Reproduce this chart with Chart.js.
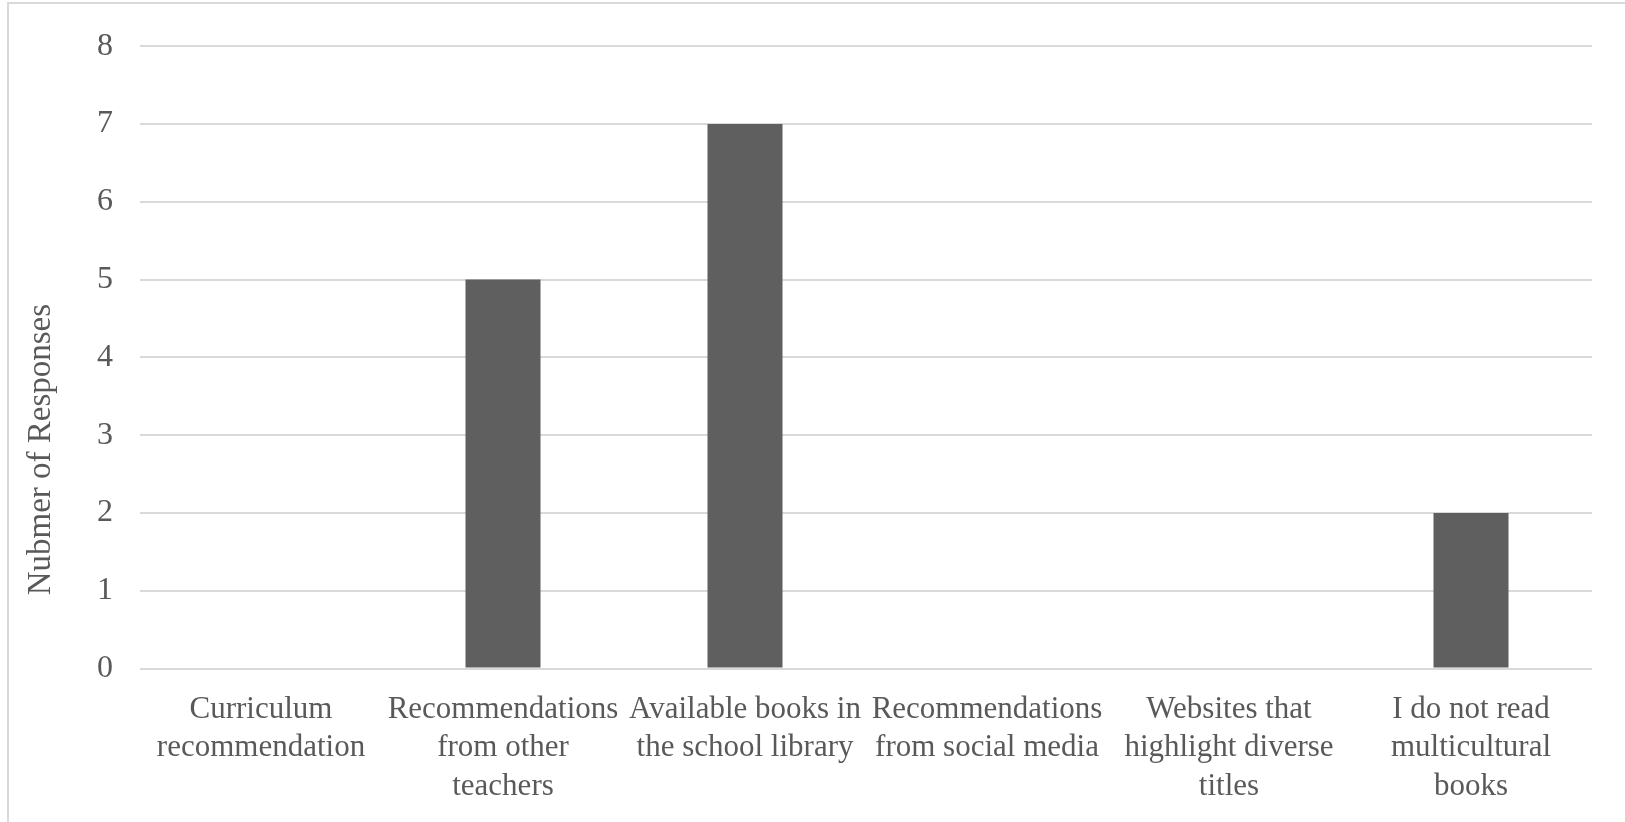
<!DOCTYPE html>
<html>
<head>
<meta charset="utf-8">
<script src="https://cdn.jsdelivr.net/npm/chart.js@4.4.1/dist/chart.umd.min.js"></script>
<style>
  html, body { margin: 0; padding: 0; background: #fff; overflow: hidden; }
  #frame { position: absolute; left: 7px; top: 2px; width: 1640px; height: 840px;
           border-left: 2px solid #d9d9d9; border-top: 2px solid #d9d9d9; }
  #chart { position: absolute; left: 0; top: 0; }
</style>
</head>
<body>
<div id="frame"></div>
<canvas id="chart" width="1625" height="822"></canvas>
<script>
// data
const categories = [
    ['Curriculum', 'recommendation'],
    ['Recommendations', 'from other', 'teachers'],
    ['Available books in', 'the school library'],
    ['Recommendations', 'from social media'],
    ['Websites that', 'highlight diverse', 'titles'],
    ['I do not read', 'multicultural', 'books']
];
const responses = [0, 5, 7, 0, 0, 2];
const yTicks = [0, 1, 2, 3, 4, 5, 6, 7, 8];
const yTitle = 'Nubmer of Responses';

const textColor = '#595959';
const fontFamily = '"Liberation Serif", "Times New Roman", serif';

// axis title sits lower than the plot centre in the original, so draw it by hand
const yTitlePlugin = {
    id: 'yTitle',
    afterDraw(chart) {
        const c = chart.ctx;
        c.save();
        c.translate(41, chart.height * 0.547);
        c.rotate(-Math.PI / 2);
        c.font = '33px ' + fontFamily;
        c.fillStyle = textColor;
        c.textAlign = 'center';
        c.textBaseline = 'middle';
        c.fillText(yTitle, 0, 0);
        c.restore();
    }
};

const ctx = document.getElementById('chart').getContext('2d');
new Chart(ctx, {
    type: 'bar',
    data: {
        labels: categories,
        datasets: [{
            data: responses,
            backgroundColor: '#5f5f5f',
            borderWidth: 0,
            barPercentage: 1,
            categoryPercentage: 0.31
        }]
    },
    options: {
        responsive: false,
        animation: false,
        layout: { padding: { top: 0, right: 33, bottom: 0, left: 0 } },
        plugins: { legend: { display: false }, tooltip: { enabled: false } },
        scales: {
            x: {
                grid: { display: false, drawTicks: false },
                border: { display: false },
                ticks: {
                    color: textColor,
                    font: { family: fontFamily, size: 31, lineHeight: 1.24 },
                    padding: 22,
                    maxRotation: 0,
                    autoSkip: false
                },
                afterFit(scale) { scale.height = 153.5; }
            },
            y: {
                min: yTicks[0],
                max: yTicks[yTicks.length - 1],
                afterBuildTicks(scale) { scale.ticks = yTicks.map(v => ({ value: v })); },
                grid: { color: '#d9d9d9', lineWidth: 2, drawTicks: false },
                border: { display: false },
                ticks: {
                    color: textColor,
                    font: { family: fontFamily, size: 32 },
                    padding: 27
                },
                afterFit(scale) { scale.width = 140; }
            }
        }
    },
    plugins: [yTitlePlugin]
});
</script>
</body>
</html>
